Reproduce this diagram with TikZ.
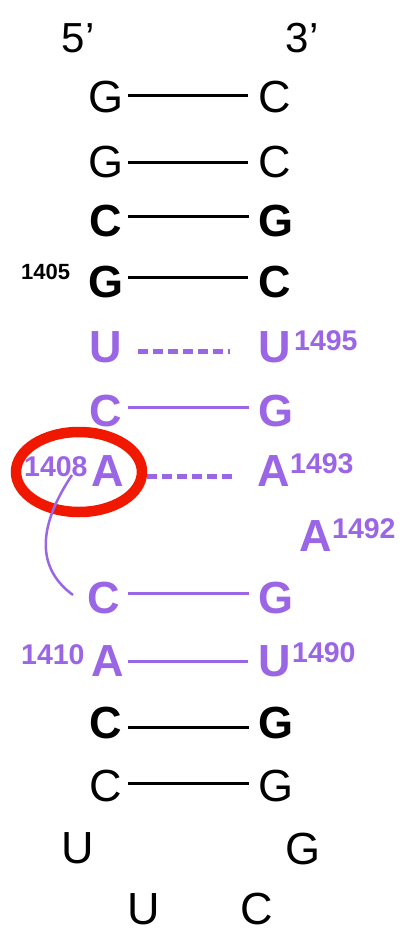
\documentclass[tikz,border=0pt]{standalone}
\usepackage{fontspec}
\setmainfont{Liberation Sans}
\usetikzlibrary{calc}
\definecolor{rnapurple}{RGB}{155,102,230}
\definecolor{markred}{RGB}{240,25,0}
\begin{document}
\begin{tikzpicture}[x=1pt,y=-1pt,
  nt/.style={inner sep=0pt, font=\fontsize{45}{45}\selectfont},
  ntb/.style={inner sep=0pt, font=\fontsize{45}{45}\selectfont\bfseries},
  ntp/.style={ntb, text=rnapurple},
  num/.style={inner sep=0pt, anchor=north west, font=\fontsize{28.5}{28.5}\selectfont\bfseries, text=rnapurple},
  numblack/.style={inner sep=0pt, anchor=north west, font=\fontsize{22}{22}\selectfont\bfseries},
  primelabel/.style={inner sep=0pt, font=\fontsize{42}{42}\selectfont},
  pair/.style={line width=3pt, shorten <=22pt, shorten >=27pt},
  ppair/.style={pair, draw=rnapurple},
  dpair/.style={draw=rnapurple, line width=5pt, dash pattern=on 10pt off 5pt}
]
\fill[white] (0,0) rectangle (410,933);
\useasboundingbox (0,0) rectangle (410,933);

% strand ends
\node[primelabel] (five) at (78,38) {5’};
\node[primelabel] (three) at (302,38) {3’};

% black stem top
\node[nt] (L1) at (106,97) {G};   \node[nt] (R1) at (275,97) {C};
\node[nt] (L2) at (106,162) {G};  \node[nt] (R2) at (275,162) {C};
\node[ntb] (L3) at (106,221) {C}; \node[ntb] (R3) at (276,221) {G};
\node[ntb] (L4) at (106,282) {G}; \node[ntb] (R4) at (275,282) {C};
\node[numblack] (n1405) at (21,264) {1405};

% purple region
\node[ntp] (L5) at (106,347) {U}; \node[ntp] (R5) at (275,347) {U};
\node[num] (n1495) at (294,330) {1495};
\node[ntp] (L6) at (106,411) {C}; \node[ntp] (R6) at (276,411) {G};
\node[ntp] (L7) at (108,471) {A}; \node[ntp] (R7) at (274,471) {A};
\node[num] (n1408) at (24,456) {1408};
\node[num] (n1493) at (290,453) {1493};
\node[ntp] (A1492) at (316,536) {A};
\node[num] (n1492) at (332,518) {1492};
\node[ntp] (L8) at (104,598) {C}; \node[ntp] (R8) at (276,598) {G};
\node[ntp] (L9) at (108,661) {A}; \node[ntp] (R9) at (275,661) {U};
\node[num] (n1410) at (21,644) {1410};
\node[num] (n1490) at (292,642) {1490};

% black stem bottom and loop
\node[ntb] (L10) at (106,723) {C}; \node[ntb] (R10) at (276,723) {G};
\node[nt] (L11) at (106,786) {C};  \node[nt] (R11) at (276,786) {G};
\node[nt] (U1) at (78,848) {U};    \node[nt] (G1) at (303,849) {G};
\node[nt] (U2) at (144,909) {U};   \node[nt] (C2) at (257,909) {C};

% pairs
\draw[pair] ([yshift=1pt]L1.center) -- ([yshift=1pt]R1.center);
\draw[pair] ([yshift=-1pt]L2.center) -- ([yshift=-1pt]R2.center);
\draw[pair] ([yshift=4pt]L3.center) -- ([yshift=4pt]R3.center);
\draw[pair] ([yshift=5pt]L4.center) -- ([yshift=5pt]R4.center);
\draw[dpair, shorten <=32pt, shorten >=45pt] ([yshift=-4pt]L5.center) -- ([yshift=-4pt]R5.center);
\draw[ppair] ([yshift=4pt]L6.center) -- ([yshift=4pt]R6.center);
\draw[dpair, shorten <=39pt, shorten >=42pt] ([yshift=-5pt]L7.center) -- ([yshift=-5pt]R7.center);
\draw[ppair, shorten <=24pt] ([yshift=5pt]L8.center) -- ([yshift=5pt]R8.center);
\draw[ppair, shorten <=20pt] ([yshift=0pt]L9.center) -- ([yshift=0pt]R9.center);
\draw[pair] ([yshift=-4pt]L10.center) -- ([yshift=-4pt]R10.center);
\draw[pair] ([yshift=3pt]L11.center) -- ([yshift=3pt]R11.center);

% red highlight
\draw[markred, line width=10.5pt] (79,472) ellipse [x radius=63, y radius=40];

% interaction curve
\coordinate (cs) at ($(L7.center)+(-36,4)$);
\coordinate (ce) at ($(L8.center)+(-31,-3)$);
\draw[rnapurple, line width=2.5pt] (cs) .. controls (42,520) and (32,565) .. (ce);
\end{tikzpicture}
\end{document}
